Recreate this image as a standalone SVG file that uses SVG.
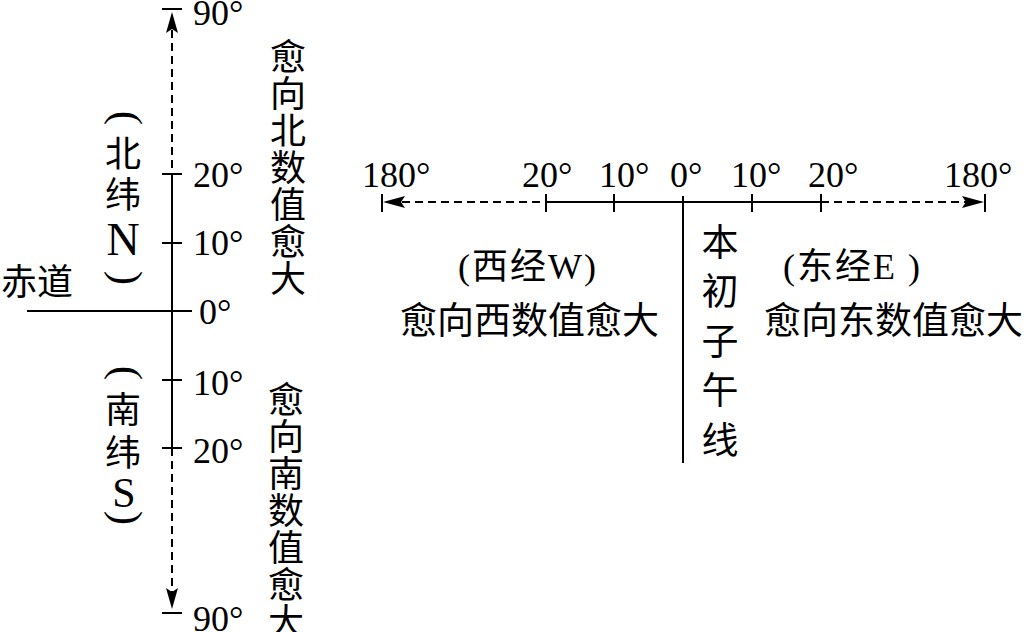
<svg xmlns="http://www.w3.org/2000/svg" width="1025" height="632" viewBox="0 0 1025 632">
<style>
.ln{stroke:#000;stroke-width:2;fill:none}
.ds{stroke:#000;stroke-width:2;fill:none;stroke-dasharray:8,5}
.ah{fill:#000;stroke:none}
.num{font-family:"Liberation Serif","Times New Roman",serif;font-size:36px;fill:#000}
.cjk{font-family:"Liberation Serif","Noto Sans CJK SC",serif;font-size:36px;fill:#000}
.col{font-family:"Noto Sans CJK SC",sans-serif;font-size:36px;fill:#000;text-anchor:middle}
.par{font-family:"Liberation Serif","Times New Roman",serif;font-size:43px;fill:#000;text-anchor:middle}
</style>
<rect width="1025" height="632" fill="#fff"/>
<g id="connectors">
  <line class="ds" x1="172" y1="30" x2="172" y2="174"/>
  <line class="ln" x1="172" y1="174" x2="172" y2="448"/>
  <line class="ds" x1="172" y1="448" x2="172" y2="594"/>
  <path class="ah" d="M172,12 L178,33 L172,29 L166,33 Z"/>
  <path class="ah" d="M172,609 L178,588 L172,592 L166,588 Z"/>
  <line class="ln" x1="162" y1="9" x2="182" y2="9"/>
  <line class="ln" x1="162" y1="174" x2="182" y2="174"/>
  <line class="ln" x1="162" y1="243" x2="182" y2="243"/>
  <line class="ln" x1="162" y1="380" x2="182" y2="380"/>
  <line class="ln" x1="162" y1="448" x2="182" y2="448"/>
  <line class="ln" x1="162" y1="613" x2="182" y2="613"/>
  <line class="ln" x1="27" y1="311" x2="192" y2="311"/>
  <line class="ds" x1="402" y1="202" x2="546" y2="202"/>
  <line class="ln" x1="546" y1="202" x2="821" y2="202"/>
  <line class="ds" x1="821" y1="202" x2="966" y2="202"/>
  <path class="ah" d="M383,202 L405,196 L401,202 L405,208 Z"/>
  <path class="ah" d="M984,202 L962,196 L966,202 L962,208 Z"/>
  <line class="ln" x1="382" y1="194" x2="382" y2="212"/>
  <line class="ln" x1="546" y1="194" x2="546" y2="212"/>
  <line class="ln" x1="614" y1="194" x2="614" y2="212"/>
  <line class="ln" x1="752" y1="194" x2="752" y2="212"/>
  <line class="ln" x1="821" y1="194" x2="821" y2="212"/>
  <line class="ln" x1="985" y1="194" x2="985" y2="212"/>
  <line class="ln" x1="683" y1="196" x2="683" y2="463"/>
</g>
<g id="lat-labels">
  <text class="num" x="193" y="25">90°</text>
  <text class="num" x="193" y="187">20°</text>
  <text class="num" x="193" y="255">10°</text>
  <text class="num" x="199" y="324">0°</text>
  <text class="num" x="193" y="395">10°</text>
  <text class="num" x="193" y="463">20°</text>
  <text class="num" x="193" y="631">90°</text>
</g>
<g id="lon-labels">
  <text class="num" x="362" y="187">180°</text>
  <text class="num" x="522" y="187">20°</text>
  <text class="num" x="599" y="187">10°</text>
  <text class="num" x="670" y="187">0°</text>
  <text class="num" x="731" y="187">10°</text>
  <text class="num" x="808" y="187">20°</text>
  <text class="num" x="944" y="187">180°</text>
</g>
<g id="equator">
  <text class="cjk" x="1" y="295">赤道</text>
</g>
<g id="north">
  <text class="par" transform="translate(113,118) rotate(90)">(</text>
  <text class="col" x="123" y="167">北</text>
  <text class="col" x="123" y="208">纬</text>
  <text class="num" x="123" y="255" style="font-size:46px;text-anchor:middle">N</text>
  <text class="par" transform="translate(113,278) rotate(90)">)</text>
  <text class="col"><tspan x="288" y="70">愈</tspan><tspan x="288" y="107">向</tspan><tspan x="288" y="144">北</tspan><tspan x="288" y="181">数</tspan><tspan x="288" y="218">值</tspan><tspan x="288" y="255">愈</tspan><tspan x="288" y="292">大</tspan></text>
</g>
<g id="south">
  <text class="par" transform="translate(113,373) rotate(90)">(</text>
  <text class="col" x="123" y="423">南</text>
  <text class="col" x="123" y="466">纬</text>
  <text class="num" x="124" y="507" style="font-size:42px;text-anchor:middle">S</text>
  <text class="par" transform="translate(113,518) rotate(90)">)</text>
  <text class="col"><tspan x="286" y="413">愈</tspan><tspan x="286" y="450">向</tspan><tspan x="286" y="487">南</tspan><tspan x="286" y="524">数</tspan><tspan x="286" y="561">值</tspan><tspan x="286" y="598">愈</tspan><tspan x="286" y="635">大</tspan></text>
</g>
<g id="west">
  <text class="cjk" x="458" y="279" style="letter-spacing:2px">(西经W)</text>
  <text class="cjk" x="400" y="334" style="font-size:37px">愈向西数值愈大</text>
</g>
<g id="east">
  <text class="cjk" x="783" y="279" style="letter-spacing:2px">(东经E )</text>
  <text class="cjk" x="764" y="334" style="font-size:37px">愈向东数值愈大</text>
</g>
<g id="prime-meridian">
  <text class="col" style="font-size:37px"><tspan x="720" y="256">本</tspan><tspan x="720" y="305">初</tspan><tspan x="720" y="355">子</tspan><tspan x="720" y="404">午</tspan><tspan x="720" y="454">线</tspan></text>
</g>
</svg>
